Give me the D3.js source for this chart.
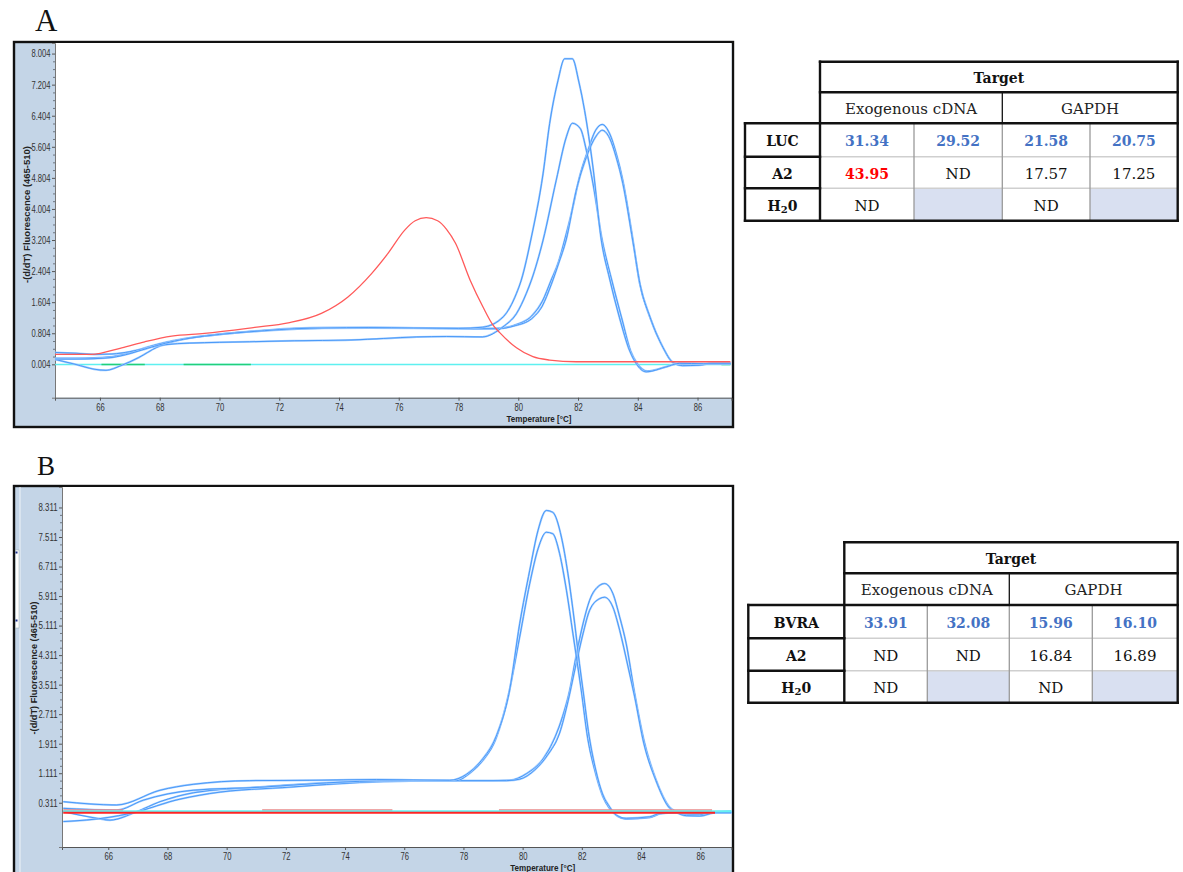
<!DOCTYPE html>
<html>
<head>
<meta charset="utf-8">
<script src="https://cdn.jsdelivr.net/npm/d3@7"></script>
<style>
  html, body { margin: 0; padding: 0; background: #fff; }
  svg { display: block; }
</style>
</head>
<body>
<svg id="fig" width="1183" height="872"></svg>
<script>
// ------------------------------------------------------------------
// Melt-curve data: [temperature °C, -(d/dT) fluorescence]
// ------------------------------------------------------------------

// Panel A – LUC / A2 run
const meltA_lucExo1 = [[64.5,0.14],[65.2,0.14],[65.8,0.15],[66.4,0.18],[67.0,0.28],[67.6,0.42],[68.2,0.55],[68.8,0.65],[69.5,0.73],[70.5,0.81],[71.5,0.87],[72.5,0.92],[73.5,0.94],[75.0,0.95],[76.5,0.94],[78.0,0.93],[78.8,0.96],[79.5,1.23],[79.94,1.83],[80.1,2.17],[80.44,3.28],[80.83,4.91],[81.05,6.20],[81.33,7.31],[81.55,7.87],[81.81,7.87],[82.03,7.27],[82.22,6.54],[82.5,5.08],[82.78,3.20],[83.06,2.20],[83.39,1.20],[83.73,0.35],[83.95,0.02],[84.28,-0.19],[84.95,-0.06],[85.4,0.03],[86.2,0.02],[87.1,0.02]];
const meltA_lucExo2 = [[64.5,0.31],[65.2,0.29],[65.8,0.26],[66.4,0.27],[67.0,0.33],[67.6,0.43],[68.2,0.51],[69.0,0.55],[70.0,0.57],[71.0,0.585],[72.5,0.61],[74.4,0.63],[75.5,0.67],[76.6,0.71],[77.6,0.72],[78.8,0.71],[79.49,0.97],[79.94,1.31],[80.27,1.83],[80.44,2.17],[80.83,3.20],[81.27,4.74],[81.61,5.86],[81.81,6.21],[82.08,6.07],[82.28,5.51],[82.5,4.66],[82.81,3.20],[83.12,2.20],[83.46,1.20],[83.76,0.35],[83.99,0.02],[84.32,-0.17],[84.99,-0.05],[85.4,0.03],[86.2,0.02],[87.1,0.02]];
const meltA_lucGapdh1 = [[64.5,0.13],[65.2,0.0],[65.8,-0.12],[66.2,-0.15],[66.7,-0.03],[67.3,0.18],[67.9,0.44],[68.6,0.62],[69.5,0.73],[70.5,0.81],[71.5,0.87],[72.5,0.91],[73.5,0.93],[75.0,0.94],[77.0,0.93],[78.5,0.92],[79.3,0.93],[79.9,1.02],[80.45,1.25],[80.8,1.62],[81.1,2.17],[81.35,2.65],[81.55,3.20],[81.83,4.06],[82.05,4.83],[82.33,5.51],[82.59,6.03],[82.81,6.18],[83.06,5.94],[83.28,5.43],[83.5,4.74],[83.84,3.20],[84.06,2.10],[84.39,1.25],[84.83,0.46],[85.16,0.06],[85.5,-0.01],[86.05,-0.01],[86.5,0.04],[87.1,0.04]];
const meltA_lucGapdh2 = [[64.5,0.16],[65.2,0.16],[65.8,0.17],[66.4,0.20],[67.0,0.30],[67.6,0.45],[68.2,0.57],[68.8,0.66],[69.5,0.74],[70.5,0.82],[71.5,0.88],[72.5,0.93],[73.5,0.95],[75.0,0.95],[77.0,0.94],[78.5,0.92],[79.3,0.92],[79.9,1.00],[80.45,1.18],[80.8,1.50],[81.1,2.05],[81.35,2.60],[81.6,3.20],[81.94,4.48],[82.28,5.34],[82.59,5.86],[82.81,6.03],[83.06,5.82],[83.28,5.33],[83.5,4.66],[83.84,3.15],[84.08,2.05],[84.41,1.22],[84.85,0.43],[85.18,0.05],[85.5,-0.03],[86.05,-0.02],[86.5,0.03],[87.1,0.03]];
const meltA_a2Exo = [[64.5,0.26],[65.7,0.26],[66.73,0.43],[67.5,0.585],[68.4,0.73],[69.5,0.80],[71.18,0.955],[72.3,1.07],[73.41,1.315],[74.3,1.74],[75.09,2.34],[75.64,2.86],[76.2,3.46],[76.55,3.70],[76.92,3.78],[77.3,3.70],[77.6,3.48],[77.9,3.12],[78.39,2.17],[78.82,1.48],[79.15,1.02],[79.38,0.82],[79.94,0.43],[80.49,0.20],[81.05,0.115],[81.94,0.07],[87.1,0.07]];
const meltA_water = [[64.5,0.0],[87.1,0.0]];
const meltA_waterRep = [[66.05,0.0],[67.5,0.0],null,[68.8,0.0],[71.05,0.0],null,[86.8,0.0],[87.1,0.0]];

// Panel B – BVRA / A2 run
const meltB_bvraExo1 = [[64.48,0.34],[66.28,0.25],[67.75,0.65],[68.87,0.81],[70.78,0.91],[72.81,0.92],[75.06,0.94],[77.54,0.92],[78.1,1.08],[78.6,1.45],[79.1,2.10],[79.56,3.36],[79.9,5.16],[80.24,6.61],[80.52,7.69],[80.8,8.23],[81.02,8.18],[81.31,7.51],[81.53,6.52],[81.76,5.16],[81.92,4.08],[82.04,3.36],[82.25,2.10],[82.47,1.20],[82.7,0.55],[82.94,0.20],[83.16,-0.02],[83.5,-0.11],[84.29,-0.07],[84.63,0.02],[85.2,0.04],[87.07,0.04]];
const meltB_bvraExo2 = [[64.48,0.16],[66.28,0.11],[67.18,0.38],[68.87,0.65],[71.12,0.73],[73.37,0.85],[75.62,0.91],[77.76,0.91],[78.2,1.10],[78.65,1.45],[79.1,2.05],[79.54,3.30],[79.9,4.80],[80.24,6.25],[80.52,7.19],[80.8,7.64],[81.02,7.60],[81.25,7.06],[81.48,6.07],[81.7,4.89],[81.98,3.36],[82.2,2.05],[82.45,1.15],[82.7,0.50],[82.94,0.15],[83.2,-0.05],[83.5,-0.13],[84.3,-0.09],[84.65,0.01],[85.0,0.04],[87.07,0.04]];
const meltB_bvraGapdh1 = [[64.48,0.07],[65.61,-0.11],[66.06,-0.16],[66.96,0.07],[67.75,0.34],[68.87,0.58],[71.12,0.74],[74.5,0.88],[77.87,0.91],[79.0,0.91],[79.56,0.92],[80.13,1.10],[80.69,1.50],[81.1,2.10],[81.35,2.65],[81.59,3.36],[81.81,4.30],[82.04,5.16],[82.26,5.79],[82.6,6.20],[82.77,6.25],[83.05,5.98],[83.28,5.34],[83.5,4.62],[83.78,3.30],[84.1,2.00],[84.5,0.95],[84.96,0.20],[85.19,0.07],[85.53,-0.02],[85.98,-0.02],[86.54,0.07],[87.07,0.08]];
const meltB_bvraGapdh2 = [[64.48,-0.20],[66.06,-0.08],[67.18,0.11],[68.08,0.34],[69.43,0.56],[72.25,0.74],[74.5,0.86],[76.75,0.91],[79.45,0.91],[79.9,0.95],[80.41,1.20],[80.84,1.60],[81.25,2.20],[81.53,3.05],[81.76,3.90],[82.04,4.89],[82.26,5.52],[82.6,5.84],[82.77,5.88],[83.05,5.61],[83.28,4.98],[83.56,4.00],[83.78,3.20],[84.1,1.90],[84.5,0.92],[84.96,0.17],[85.19,0.05],[85.53,-0.04],[85.98,-0.05],[86.54,0.05],[87.07,0.06]];
const meltB_a2 = [[64.48,0.04],[86.5,0.04]];
const meltB_water = [[64.48,0.08],[87.07,0.08]];
const meltB_a2Rep = [[64.48,0.11],[66.5,0.11],null,[71.2,0.11],[75.6,0.11],null,[79.2,0.11],[86.4,0.11]];

// Axis ticks
const tempTicks = [66, 68, 70, 72, 74, 76, 78, 80, 82, 84, 86];
const yTicksA = [0.004, 0.804, 1.604, 2.404, 3.204, 4.004, 4.804, 5.604, 6.404, 7.204, 8.004];
const yTickLabelsA = ["0.004", "0.804", "1.604", "2.404", "3.204", "4.004", "4.804", "5.604", "6.404", "7.204", "8.004"];
const yTicksB = [0.311, 1.111, 1.911, 2.711, 3.511, 4.311, 5.111, 5.911, 6.711, 7.511, 8.311];
const yTickLabelsB = ["0.311", "1.111", "1.911", "2.711", "3.511", "4.311", "5.111", "5.911", "6.711", "7.511", "8.311"];

// Ct tables
const tableTitle = "Target";
const tableGroups = ["Exogenous cDNA", "GAPDH"];
const tableA_rows = ["LUC", "A2", "H₂0"];
const tableA_values = [["31.34", "29.52", "21.58", "20.75"], ["43.95", "ND", "17.57", "17.25"], ["ND", null, "ND", null]];
const tableA_kind = [["hit", "hit", "hit", "hit"], ["dimer", "plain", "plain", "plain"], ["plain", "none", "plain", "none"]];
const tableB_rows = ["BVRA", "A2", "H₂0"];
const tableB_values = [["33.91", "32.08", "15.96", "16.10"], ["ND", "ND", "16.84", "16.89"], ["ND", null, "ND", null]];
const tableB_kind = [["hit", "hit", "hit", "hit"], ["plain", "plain", "plain", "plain"], ["plain", "none", "plain", "none"]];

// ------------------------------------------------------------------
const svg = d3.select("#fig");
const AXIS_FONT = "'Liberation Sans', Arial, sans-serif";
const SERIF = "'DejaVu Serif', serif";
const BLUE_UNDER = "#a3cdff", BLUE_OVER = "#3f93f7";

function drawPanel(p) {
  const g = svg.append("g");
  const { left, top, right, bottom } = p.plot;

  g.append("rect")
    .attr("x", p.frame[0]).attr("y", p.frame[1])
    .attr("width", p.frame[2] - p.frame[0]).attr("height", p.frame[3] - p.frame[1])
    .attr("fill", "#c4d5e7").attr("stroke", "#111").attr("stroke-width", 2.4);

  g.append("rect")
    .attr("x", left).attr("y", top)
    .attr("width", right - left).attr("height", bottom - top)
    .attr("fill", "#fff");

  const x = d3.scaleLinear().domain(p.xDomain).range([left, right]);
  const y = d3.scaleLinear().domain(p.yDomain).range([bottom, top]);

  // y axis (major + minor ticks)
  const minor = [];
  for (let i = 0; i < p.yTicks.length - 1; i++) {
    const step = (p.yTicks[i + 1] - p.yTicks[i]) / 4;
    for (let k = 1; k < 4; k++) minor.push(p.yTicks[i] + k * step);
  }
  const yMinor = g.append("g").attr("transform", `translate(${left},0)`)
    .call(d3.axisLeft(y).tickValues(minor).tickSize(2).tickFormat(""));
  yMinor.select(".domain").remove();
  yMinor.selectAll("line").attr("stroke", "#6d7680");

  const yAx = g.append("g").attr("transform", `translate(${left},0)`)
    .call(d3.axisLeft(y).tickValues(p.yTicks)
      .tickFormat((d, i) => p.yTickLabels[i]).tickSize(3).tickPadding(1.5));
  yAx.select(".domain").attr("stroke", "#777");
  yAx.selectAll("line").attr("stroke", "#555");
  yAx.selectAll("text")
    .attr("font-family", AXIS_FONT).attr("font-size", 10.5).attr("fill", "#333")
    .attr("textLength", 19).attr("lengthAdjust", "spacingAndGlyphs");

  const xAx = g.append("g").attr("transform", `translate(0,${bottom})`)
    .call(d3.axisBottom(x).tickValues(tempTicks).tickFormat(d3.format("d")).tickSize(3).tickPadding(3));
  xAx.select(".domain").attr("stroke", "#555");
  xAx.selectAll("line").attr("stroke", "#555");
  xAx.selectAll("text")
    .attr("font-family", AXIS_FONT).attr("font-size", 10).attr("fill", "#333")
    .attr("textLength", 8.5).attr("lengthAdjust", "spacingAndGlyphs");

  // axis titles
  g.append("text")
    .attr("transform", `translate(${p.yTitlePos[0]},${p.yTitlePos[1]}) rotate(-90)`)
    .attr("text-anchor", "middle").attr("dominant-baseline", "central")
    .attr("font-family", AXIS_FONT).attr("font-weight", "bold").attr("font-size", 8.5)
    .attr("textLength", p.yTitleLen).attr("lengthAdjust", "spacingAndGlyphs")
    .attr("fill", "#222")
    .text("-(d/dT) Fluorescence (465-510)");
  g.append("text")
    .attr("x", p.xTitlePos[0]).attr("y", p.xTitlePos[1])
    .attr("text-anchor", "middle").attr("dominant-baseline", "central")
    .attr("font-family", AXIS_FONT).attr("font-weight", "bold").attr("font-size", 9.5)
    .attr("textLength", 65).attr("lengthAdjust", "spacingAndGlyphs")
    .attr("fill", "#222")
    .text("Temperature [°C]");

  // curves
  const clipId = "clip" + p.id;
  svg.append("clipPath").attr("id", clipId).append("rect")
    .attr("x", left).attr("y", top).attr("width", right - left).attr("height", bottom - top);
  const lines = g.append("g").attr("clip-path", `url(#${clipId})`);
  const line = d3.line()
    .defined(d => d !== null)
    .x(d => x(d[0])).y(d => y(d[1]))
    .curve(d3.curveMonotoneX);

  p.series.forEach(s => {
    if (s.kind === "blue") {
      lines.append("path").attr("d", line(s.data)).attr("fill", "none")
        .attr("stroke", BLUE_UNDER).attr("stroke-width", 2.0);
      lines.append("path").attr("d", line(s.data)).attr("fill", "none")
        .attr("stroke", BLUE_OVER).attr("stroke-width", 0.9);
    } else {
      lines.append("path").attr("d", line(s.data)).attr("fill", "none")
        .attr("stroke", s.color).attr("stroke-width", s.width || 1.3);
    }
  });

  // panel letter
  svg.append("text")
    .attr("x", p.letterPos[0]).attr("y", p.letterPos[1])
    .attr("font-family", "'Liberation Serif', 'Times New Roman', serif")
    .attr("font-size", p.letterSize).attr("fill", "#111")
    .text(p.letter);
  return g;
}

drawPanel({
  id: "A", letter: "A", letterPos: [35, 31], letterSize: 31,
  frame: [14, 42, 733, 427],
  plot: { left: 55, top: 43, right: 731.5, bottom: 397.7 },
  xDomain: [64.495, 87.137], yDomain: [-0.855, 8.276],
  yTicks: yTicksA, yTickLabels: yTickLabelsA,
  yTitlePos: [26.5, 214.5], yTitleLen: 137,
  xTitlePos: [539, 418],
  series: [
    { data: meltA_water, color: "#5ef0f0", width: 1.6 },
    { data: meltA_waterRep, color: "#22d07a", width: 1.6 },
    { data: meltA_lucGapdh1, kind: "blue" },
    { data: meltA_lucGapdh2, kind: "blue" },
    { data: meltA_lucExo2, kind: "blue" },
    { data: meltA_lucExo1, kind: "blue" },
    { data: meltA_a2Exo, color: "#ff5a5a", width: 1.3 }
  ]
});

const gB = drawPanel({
  id: "B", letter: "B", letterPos: [37, 475], letterSize: 27,
  frame: [14, 486, 733, 890],
  plot: { left: 62, top: 487, right: 731.5, bottom: 847 },
  xDomain: [64.437, 87.057], yDomain: [-0.888, 8.866],
  yTicks: yTicksB, yTickLabels: yTickLabelsB,
  yTitlePos: [33.5, 668], yTitleLen: 133,
  xTitlePos: [542.7, 867.7],
  series: [
    { data: meltB_bvraGapdh1, kind: "blue" },
    { data: meltB_bvraGapdh2, kind: "blue" },
    { data: meltB_bvraExo2, kind: "blue" },
    { data: meltB_bvraExo1, kind: "blue" },
    { data: meltB_a2Rep, color: "#e98b8b", width: 1.6 },
    { data: meltB_water, color: "#66f2f2", width: 1.8 },
    { data: meltB_a2, color: "#ff2424", width: 2 }
  ]
});

// small scroll handle on the left edge of panel B
gB.append("line").attr("x1", 20).attr("x2", 20).attr("y1", 487).attr("y2", 872)
  .attr("stroke", "#eef3f8").attr("stroke-width", 1);
gB.append("rect").attr("x", 15.5).attr("y", 550).attr("width", 3.5).attr("height", 78)
  .attr("fill", "#fff").attr("stroke", "#9aa").attr("stroke-width", 0.5);
[551.5, 619.5].forEach(yy => gB.append("rect").attr("x", 15.5).attr("y", yy)
  .attr("width", 2).attr("height", 2).attr("fill", "#1a2f8a"));

// ------------------------------------------------------------------
// Ct tables
const KIND_STYLE = {
  hit:   { fill: "#4472c4", weight: "bold", size: 14 },
  dimer: { fill: "#ff0000", weight: "bold", size: 14 },
  plain: { fill: "#111",    weight: "normal", size: 15 }
};

function drawTable(t) {
  const g = svg.append("g");
  const cx = t.cols, ry = t.rows;
  const mid = (a, b) => (a + b) / 2;

  // empty cells
  t.values.forEach((row, i) => row.forEach((v, j) => {
    if (v === null) {
      g.append("rect").attr("x", cx[1 + j]).attr("y", ry[2 + i])
        .attr("width", cx[2 + j] - cx[1 + j]).attr("height", ry[3 + i] - ry[2 + i])
        .attr("fill", "#d9e0f1");
    }
  }));

  // inner data grid
  [ry[3], ry[4]].forEach(yy => g.append("line")
    .attr("x1", cx[1]).attr("x2", cx[5]).attr("y1", yy).attr("y2", yy)
    .attr("stroke", "#cfcfcf").attr("stroke-width", 1.5));
  [cx[2], cx[3], cx[4]].forEach(xx => g.append("line")
    .attr("x1", xx).attr("x2", xx).attr("y1", ry[2]).attr("y2", ry[5])
    .attr("stroke", "#9a9a9a").attr("stroke-width", 1.3));

  // heavy rules
  const heavy = (x1, y1, x2, y2, w) => g.append("line")
    .attr("x1", x1).attr("y1", y1).attr("x2", x2).attr("y2", y2)
    .attr("stroke", "#111").attr("stroke-width", w || 2.4).attr("stroke-linecap", "square");
  heavy(cx[1], ry[0], cx[5], ry[0]);
  heavy(cx[1], ry[1], cx[5], ry[1]);
  heavy(cx[0], ry[2], cx[5], ry[2]);
  heavy(cx[1], ry[0], cx[1], ry[5]);
  heavy(cx[5], ry[0], cx[5], ry[5]);
  heavy(cx[0], ry[2], cx[0], ry[5]);
  heavy(cx[0], ry[3], cx[1], ry[3]);
  heavy(cx[0], ry[4], cx[1], ry[4]);
  heavy(cx[0], ry[5], cx[5], ry[5]);
  heavy(cx[3], ry[1], cx[3], ry[2], 1.3);

  const txt = (x, y, s, opts) => g.append("text")
    .attr("x", x).attr("y", y).attr("text-anchor", "middle").attr("dominant-baseline", "central")
    .attr("font-family", SERIF).attr("font-size", opts.size).attr("font-weight", opts.weight)
    .attr("fill", opts.fill).text(s);

  txt(mid(cx[1], cx[5]), mid(ry[0], ry[1]) + 1, tableTitle, { size: 14, weight: "bold", fill: "#111" });
  txt(mid(cx[1], cx[3]), mid(ry[1], ry[2]) + 1, tableGroups[0], { size: 15, weight: "normal", fill: "#222" });
  txt(mid(cx[3], cx[5]), mid(ry[1], ry[2]) + 1, tableGroups[1], { size: 15, weight: "normal", fill: "#222" });

  t.rowLabels.forEach((lab, i) => {
    const el = txt(mid(cx[0], cx[1]), mid(ry[2 + i], ry[3 + i]) + 1, "", { size: 14, weight: "bold", fill: "#111" });
    const parts = lab.split("₂");
    if (parts.length === 2) {
      el.append("tspan").text(parts[0]);
      el.append("tspan").attr("font-size", 10).attr("dy", 3).text("2");
      el.append("tspan").attr("dy", -3).text(parts[1]);
    } else {
      el.text(lab);
    }
  });

  t.values.forEach((row, i) => row.forEach((v, j) => {
    if (v === null) return;
    const st = KIND_STYLE[t.kind[i][j]];
    txt(mid(cx[1 + j], cx[2 + j]), mid(ry[2 + i], ry[3 + i]) + 1, v, st);
  }));
}

drawTable({
  cols: [745, 820, 914, 1002.3, 1090, 1177.7],
  rows: [61.7, 92.3, 123.3, 156.7, 188.3, 220.7],
  rowLabels: tableA_rows, values: tableA_values, kind: tableA_kind
});
drawTable({
  cols: [748.3, 844.3, 927.3, 1009.3, 1092.3, 1177.7],
  rows: [542.3, 573.3, 605, 638.3, 670.7, 702.7],
  rowLabels: tableB_rows, values: tableB_values, kind: tableB_kind
});
</script>
</body>
</html>
